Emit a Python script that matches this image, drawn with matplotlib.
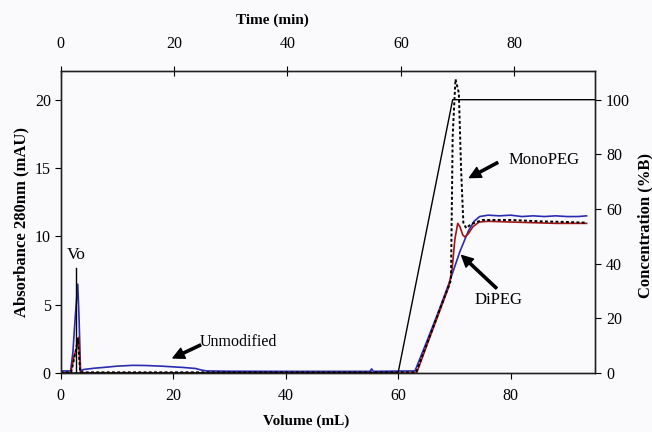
import matplotlib
matplotlib.use("Agg")
import matplotlib.pyplot as plt

# ---- data ----
# Blue trace (absorbance, mAU) vs volume (mL)
blue_vol = [0, 1.8, 2.2, 2.6, 3.07, 3.3, 3.55, 3.8, 4.0, 6, 8, 10, 12.8, 15, 18, 20, 22, 24, 25, 26,
            30, 40, 50, 55, 55.3, 55.6, 60, 63.0, 65, 67, 69, 71, 72.5, 73.5, 74.5, 76, 78, 80, 82,
            84, 86, 88, 90, 92, 93.5]
blue_abs = [0.15, 0.15, 1.5, 4.0, 6.5, 4.0, 0.3, 0.1, 0.25, 0.35, 0.42, 0.5, 0.56, 0.55, 0.5, 0.45,
            0.4, 0.33, 0.22, 0.15, 0.13, 0.12, 0.12, 0.12, 0.3, 0.12, 0.14, 0.15, 2.2, 4.3, 6.5, 8.9,
            10.4, 11.1, 11.45, 11.55, 11.5, 11.55, 11.45, 11.5, 11.45, 11.5, 11.45, 11.45, 11.5]

# Red trace
red_vol = [0, 1.8, 2.2, 2.5, 2.8, 3.0, 3.2, 3.4, 3.55, 4, 20, 40, 60, 63.3, 65, 67, 69.0, 69.6, 70.1,
           70.6, 71.0, 71.5, 71.9, 72.5, 73.3, 74.4, 76, 80, 84, 88, 91, 93.5]
red_abs = [0.0, 0.0, 0.8, 1.4, 1.6, 2.4, 2.6, 1.0, 0.0, 0.0, 0.0, 0.0, 0.0, 0.0, 1.9, 4.1, 6.3, 7.6,
           9.8, 10.95, 10.7, 10.1, 9.95, 10.2, 10.7, 11.05, 11.1, 11.05, 11.0, 10.95, 10.95, 10.95]

# Black dotted trace
dot_vol = [0, 1.9, 2.5, 3.1, 3.5, 4, 30, 60, 63.2, 65, 67, 69.4, 69.7, 70.2, 70.8, 71.2, 71.6, 72.1,
           73, 75, 80, 85, 90, 93.5]
dot_abs = [0.05, 0.05, 1.2, 2.5, 0.05, 0.05, 0.05, 0.05, 0.05, 2.0, 4.2, 6.8, 17.3, 21.5, 20.5, 14.9,
           11.0, 10.6, 10.9, 11.2, 11.2, 11.1, 11.05, 11.0]

# Gradient (concentration, %B)
grad_vol = [0, 60, 69.7, 95]
grad_conc = [0, 0, 100, 100]

vol_ticks = [0, 20, 40, 60, 80]
abs_ticks = [0, 5, 10, 15, 20]
conc_ticks = [0, 20, 40, 60, 80, 100]
time_ticks = [0, 20, 40, 60, 80]

plt.rcParams['font.family'] = ['Liberation Serif', 'DejaVu Serif']

W, H = 652, 432
fig = plt.figure(figsize=(W / 100, H / 100), dpi=100)
fig.patch.set_facecolor('#fafafc')
L, R, B, T = 60.5, 595, 373, 71
ax = fig.add_axes([L / W, (H - B) / H, (R - L) / W, (B - T) / H])
ax.set_facecolor('none')

ax.plot(blue_vol, blue_abs, color='#2b2bb0', lw=1.2, zorder=3)
ax.plot(red_vol, red_abs, color='#a01515', lw=1.2, zorder=4)
ax.plot(dot_vol, dot_abs, color='black', lw=1.4, ls=(0, (1.5, 1.2)), zorder=5)
ax.set_xlim(0, 95)
ax.set_ylim(0, 22.1)
ax.set_xticks(vol_ticks)
ax.set_yticks(abs_ticks)
ax.tick_params(axis='y', direction='out', length=4, labelsize=11.5, width=0.8, pad=3)
ax.tick_params(axis='x', direction='out', length=4, labelsize=11.5, width=0.8, pad=7)

ax2 = ax.twinx()
ax2.plot(grad_vol, grad_conc, color='black', lw=1.0, zorder=2)
ax2.set_ylim(0, 22.1 / 20 * 100)
ax2.set_yticks(conc_ticks)
ax2.tick_params(direction='out', length=4, labelsize=11.5, width=0.8, pad=4)

ax3 = ax.twiny()
ax3.set_xlim(0, 94.2)
ax3.set_xticks(time_ticks)
ax3.tick_params(direction='inout', length=7, labelsize=11.5, width=0.8, pad=10)

for a in (ax, ax2, ax3):
    for s in a.spines.values():
        s.set_linewidth(0.9)
        s.set_color('#202020')

# axis titles
fig.text(306 / W, 1 - 421 / H, 'Volume (mL)', ha='center', va='center', fontsize=11, fontweight='bold')
fig.text(272 / W, 1 - 20 / H, 'Time (min)', ha='center', va='center', fontsize=11, fontweight='bold')
fig.text(21 / W, 1 - 222 / H, 'Absorbance 280nm (mAU)', ha='center', va='center', rotation=90,
         fontsize=12, fontweight='bold')
fig.text(645 / W, 1 - 225 / H, 'Concentration (%B)', ha='center', va='center', rotation=90,
         fontsize=12, fontweight='bold')

# annotations
ax.plot([2.8, 2.8], [0, 7.7], color='black', lw=1.0, zorder=6)
ax.text(2.85, 8.65, 'Vo', ha='center', va='center', fontsize=12.5)
arrow = dict(facecolor='black', edgecolor='black', width=1.6, headwidth=8, headlength=8, shrink=0)
ax.annotate('', xy=(20.0, 1.1), xytext=(24.9, 2.05), arrowprops=arrow)
ax.text(24.8, 2.27, 'Unmodified', ha='left', va='center', fontsize=11.5)
ax.annotate('', xy=(72.7, 14.3), xytext=(77.7, 15.4), arrowprops=arrow)
ax.text(79.7, 15.6, 'MonoPEG', ha='left', va='center', fontsize=12)
ax.annotate('', xy=(71.3, 8.6), xytext=(77.5, 6.2), arrowprops=arrow)
ax.text(73.6, 5.35, 'DiPEG', ha='left', va='center', fontsize=12)

fig.savefig('out.png', dpi=100, facecolor=fig.get_facecolor())
